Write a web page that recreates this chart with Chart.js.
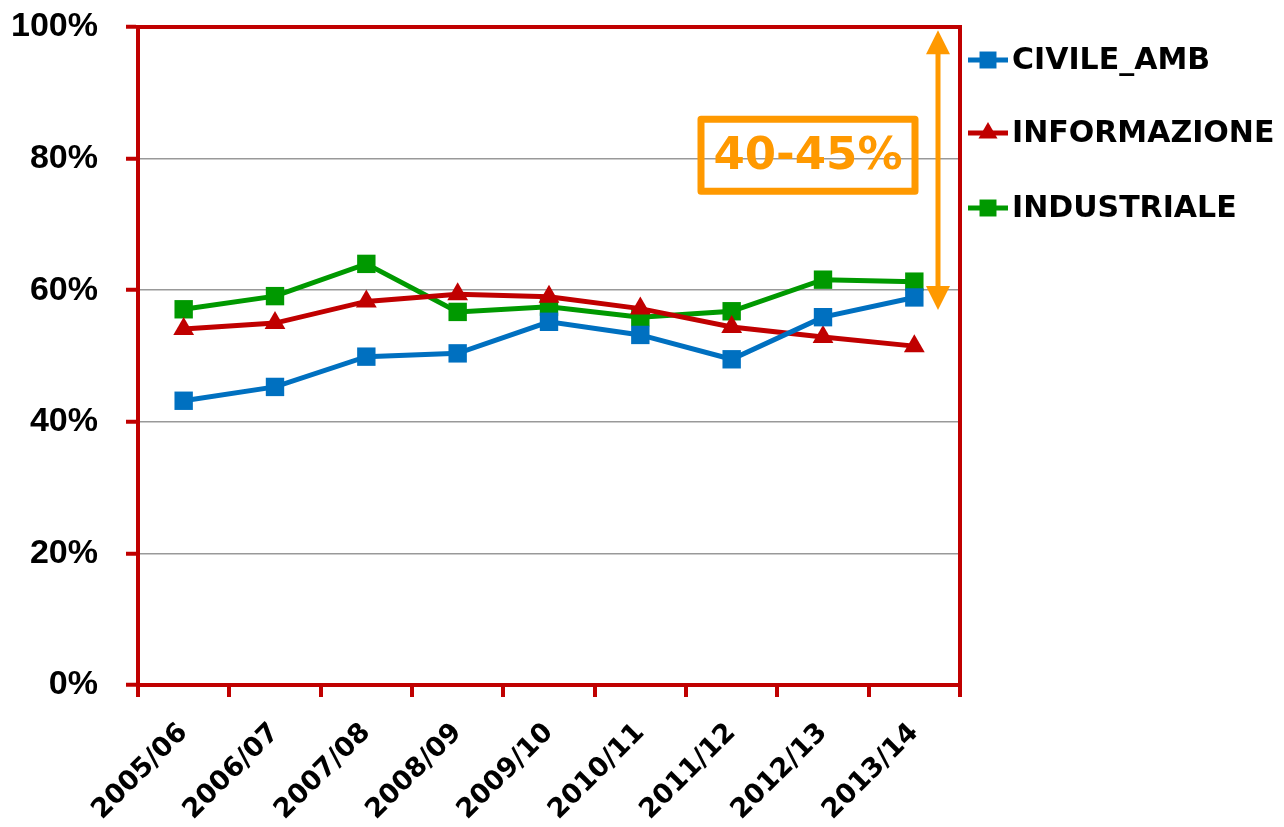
<!DOCTYPE html>
<html>
<head>
<meta charset="utf-8">
<script src="https://cdn.jsdelivr.net/npm/chart.js@4"></script>
<style>
  html, body { margin: 0; padding: 0; background: #fff; }
  #wrap { width: 1284px; height: 827px; }
</style>
</head>
<body>
<div id="wrap"><canvas id="chart" width="1284" height="827"></canvas></div>
<script>
const YEARS = ['2005/06', '2006/07', '2007/08', '2008/09', '2009/10', '2010/11', '2011/12', '2012/13', '2013/14'];
const CIVILE_AMB = [43.2, 45.3, 49.9, 50.4, 55.2, 53.2, 49.5, 55.9, 58.9];
const INFORMAZIONE = [54.1, 55.0, 58.3, 59.4, 59.0, 57.2, 54.4, 52.9, 51.5];
const INDUSTRIALE = [57.1, 59.1, 64.0, 56.7, 57.5, 55.9, 56.8, 61.6, 61.3];
const Y_TICKS = [0, 20, 40, 60, 80, 100];
const NOTE_TEXT = '40-45%';
const NOTE_RANGE = [99.5, 57];   // arrow span, in % on the y scale

const RED = '#C00000';
const ORANGE = '#FF9900';
const LABEL_FONT = 'DejaVu Sans';

function series(label, data, color, style, radius) {
    return {
        label: label,
        data: data,
        borderColor: color,
        backgroundColor: color,
        borderWidth: 5,
        pointStyle: style,
        pointRadius: radius,
        pointHoverRadius: radius,
        pointBorderWidth: 0,
        tension: 0,
    };
}

/* frame, legend and the 40-45% note */
const extras = {
    id: 'extras',
    afterDraw: function(chart) {
        const ctx = chart.ctx;
        const a = chart.chartArea;
        const y = chart.scales.y;
        ctx.save();

        // top + right frame
        ctx.strokeStyle = RED;
        ctx.lineWidth = 4;
        ctx.beginPath();
        ctx.moveTo(a.left, a.top);
        ctx.lineTo(a.right, a.top);
        ctx.lineTo(a.right, a.bottom);
        ctx.stroke();

        // legend
        const lx = a.right + 8;
        const rows = [60, 133, 208];
        chart.data.datasets.forEach(function(ds, i) {
            const ly = rows[i];
            ctx.strokeStyle = ds.borderColor;
            ctx.lineWidth = 5;
            ctx.beginPath();
            ctx.moveTo(lx, ly);
            ctx.lineTo(lx + 40, ly);
            ctx.stroke();
            ctx.fillStyle = ds.backgroundColor;
            Chart.helpers.drawPoint(ctx, { pointStyle: ds.pointStyle, radius: ds.pointRadius - 1, rotation: 0, borderWidth: 0 }, lx + 20, ly);
            ctx.fillStyle = '#000';
            ctx.font = 'bold 30px "' + LABEL_FONT + '"';
            ctx.textBaseline = 'middle';
            ctx.textAlign = 'left';
            ctx.fillText(ds.label, lx + 44, ly + 1);
        });

        // double arrow
        const ax = a.right - 22;
        const y1 = y.getPixelForValue(NOTE_RANGE[0]);
        const y2 = y.getPixelForValue(NOTE_RANGE[1]);
        ctx.strokeStyle = ORANGE;
        ctx.fillStyle = ORANGE;
        ctx.lineWidth = 5;
        ctx.beginPath();
        ctx.moveTo(ax, y1 + 20);
        ctx.lineTo(ax, y2 - 20);
        ctx.stroke();
        ctx.beginPath();
        ctx.moveTo(ax, y1);
        ctx.lineTo(ax - 12, y1 + 24);
        ctx.lineTo(ax + 12, y1 + 24);
        ctx.closePath();
        ctx.fill();
        ctx.beginPath();
        ctx.moveTo(ax, y2);
        ctx.lineTo(ax - 12, y2 - 24);
        ctx.lineTo(ax + 12, y2 - 24);
        ctx.closePath();
        ctx.fill();

        // note box
        const cx = a.right - 152;
        const cy = y.getPixelForValue(80.5);
        ctx.lineWidth = 7;
        ctx.lineJoin = 'round';
        ctx.strokeRect(cx - 107, cy - 36, 214, 72);
        ctx.font = 'bold 45px "' + LABEL_FONT + '"';
        ctx.textAlign = 'center';
        ctx.textBaseline = 'middle';
        ctx.fillText(NOTE_TEXT, cx, cy + 2);

        ctx.restore();
    }
};

new Chart(document.getElementById('chart'), {
    type: 'line',
    data: {
        labels: YEARS,
        datasets: [
            series('CIVILE_AMB', CIVILE_AMB, '#0070C0', 'rect', 13),
            series('INFORMAZIONE', INFORMAZIONE, RED, 'triangle', 12),
            series('INDUSTRIALE', INDUSTRIALE, '#009900', 'rect', 13),
        ]
    },
    options: {
        responsive: false,
        animation: false,
        layout: { padding: { left: 10, top: 27, right: 324, bottom: 0 } },
        plugins: { legend: { display: false }, tooltip: { enabled: false } },
        scales: {
            x: {
                offset: true,
                grid: { offset: true, drawOnChartArea: false, color: RED, lineWidth: 4, tickLength: 12 },
                border: { color: RED, width: 4 },
                afterFit: function(s) {
                    s.paddingLeft = 0;
                    s.paddingRight = 0;
                    s.height = 142;
                },
                ticks: {
                    autoSkip: false,
                    maxRotation: 45,
                    minRotation: 45,
                    padding: 20,
                    color: '#000',
                    font: { family: LABEL_FONT, size: 27, weight: 'bold' }
                }
            },
            y: {
                min: 0,
                max: 100,
                afterBuildTicks: function(axis) {
                    axis.ticks = Y_TICKS.map(function(v) { return { value: v }; });
                },
                afterFit: function(s) {
                    s.paddingTop = 0;
                    s.paddingBottom = 0;
                    s.width = 128;
                },
                grid: { color: '#999', lineWidth: 1.5, tickColor: RED, tickWidth: 4, tickLength: 12 },
                border: { color: RED, width: 4 },
                ticks: {
                    padding: 28,
                    color: '#000',
                    font: { family: 'Liberation Sans', size: 34, weight: 'bold' },
                    callback: function(v) { return v + '%'; }
                }
            }
        }
    },
    plugins: [extras]
});
</script>
</body>
</html>
